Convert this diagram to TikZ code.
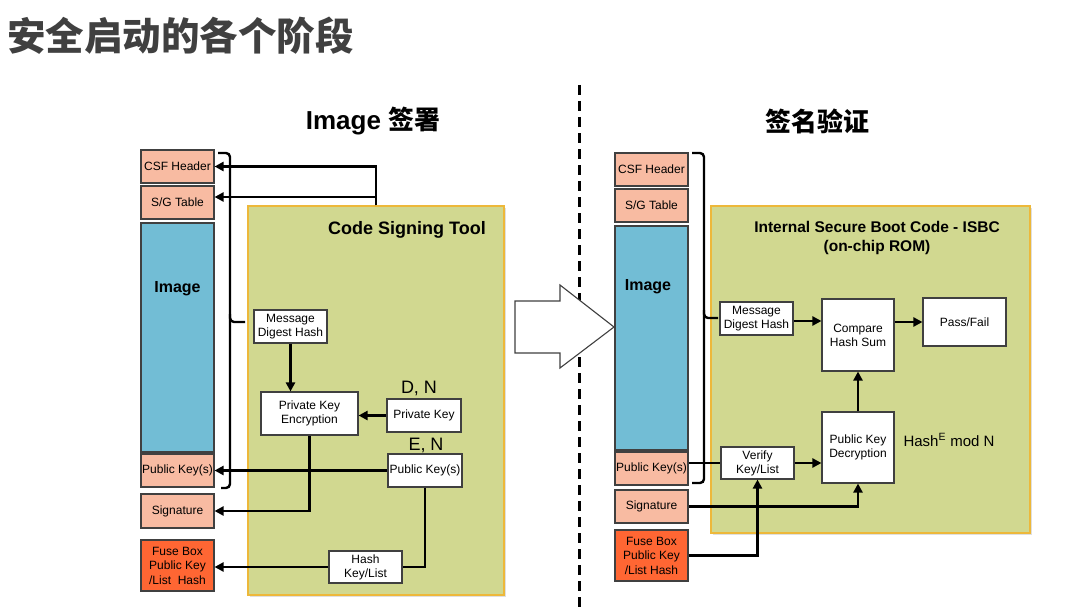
\documentclass[tikz,border=0pt]{standalone}
\usepackage{fontspec}
\setmainfont{Liberation Sans}
\newfontfamily\cjk{Noto Sans CJK SC}
\usetikzlibrary{arrows.meta,shadows}
\definecolor{salmon}{HTML}{F8BBA2}
\definecolor{fuse}{HTML}{FF6633}
\definecolor{imgblue}{HTML}{72BDD5}
\definecolor{toolgreen}{HTML}{D1D890}
\definecolor{toolborder}{HTML}{EDB83A}
\definecolor{edge}{HTML}{404040}
\definecolor{titlegray}{HTML}{404040}
\tikzset{
  every node/.style={inner sep=0pt, align=center},
  fld/.style={draw=edge, line width=1.1pt, fill=salmon, font=\fontsize{12}{14}\selectfont},
  fusebox/.style={fld, fill=fuse, font=\fontsize{12}{14.5}\selectfont},
  imgbox/.style={draw=edge, line width=1.1pt, fill=imgblue},
  wbox/.style={draw=edge, line width=1.1pt, fill=white, font=\fontsize{12}{14}\selectfont},
  panel/.style={draw=toolborder, line width=1.2pt, fill=toolgreen,
     drop shadow={shadow xshift=2pt, shadow yshift=-2pt, opacity=0.25}},
  conn/.style={line width=2.3pt, black},
  arr/.style={conn, -{Triangle[length=9pt,width=9pt]}},
  brace/.style={line width=2.4pt, black, rounded corners=4pt},
  lbl/.style={font=\fontsize{18}{20}\selectfont},
}
\begin{document}
\begin{tikzpicture}[x=1pt,y=-1pt]
\useasboundingbox (0,0) rectangle (1080,610);
\fill[white] (0,0) rectangle (1080,610);

% title
\node[anchor=west, text=titlegray, font=\cjk\bfseries\fontsize{38.5}{40}\selectfont] (title) at (7,36) {安全启动的各个阶段};
\node[font=\bfseries\fontsize{26}{28}\selectfont] (hl) at (373,121) {Image {\cjk 签署}};
\node[font=\cjk\bfseries\fontsize{26}{28}\selectfont] (hr) at (817,121) {签名验证};

% divider
\coordinate (dtop) at (579,85);
\coordinate (dbot) at (579,610);
\draw[line width=3pt, dash pattern=on 10pt off 6pt] (dtop) -- (dbot);

% big arrow
\draw[line width=1.1pt, fill=white, draw=edge] (515,301) -- (560,301) -- (560,285) -- (614,327) -- (560,368) -- (560,353) -- (515,353) -- cycle;

%%%%%%%% LEFT %%%%%%%%
\node[panel, minimum width=256, minimum height=389] (tool) at (376,400.5) {};
\node[font=\bfseries\fontsize{18}{20}\selectfont] (tooltitle) at (407,230) {Code Signing Tool};

\node[fld, minimum width=73, minimum height=33] (csfL) at (177.5,166.5) {CSF Header};
\node[fld, minimum width=73, minimum height=33] (sgL) at (177.5,202.5) {S/G Table};
\node[imgbox, minimum width=73, minimum height=229] (imgL) at (177.5,337.5) {};
\node[font=\bfseries\fontsize{16}{18}\selectfont] (imgLt) at (177.5,289) {Image};
\node[fld, minimum width=73, minimum height=33] (pkL) at (177.5,470.5) {Public Key(s)};
\node[fld, minimum width=73, minimum height=34] (sigL) at (177.5,511) {Signature};
\node[fusebox, minimum width=73, minimum height=51] (fuseL) at (177.5,565.5) {Fuse Box\\Public Key\\/List\ \ Hash};

\node[wbox, minimum width=73, minimum height=33] (mdhL) at (290.5,326.5) {Message\\Digest Hash};
\node[wbox, minimum width=97, minimum height=43] (pkeL) at (309.5,413.5) {Private Key\\Encryption};
\node[wbox, minimum width=74, minimum height=33] (privL) at (424,415.5) {Private Key};
\node[wbox, minimum width=74, minimum height=33] (pubT) at (425,470.5) {Public Key(s)};
\node[wbox, minimum width=73, minimum height=32] (hashKL) at (365.5,567) {Hash\\Key/List};
\node[lbl] (dn) at (419,388) {D, N};
\node[lbl] (en) at (426,445) {E, N};

% left brace
\coordinate (bLt) at (218,153);
\coordinate (bLb) at (221,488);
\coordinate (bLm) at (245,322);
\draw[brace] (bLt) -- (230,153) -- (230,488) -- (bLb);
\draw[brace] (230,314) -- (230,322) -- (bLm);

% left connectors
\draw[arr] (tool.north) |- (csfL.east);
\draw[arr] (tool.north) |- ([yshift=5.5pt]sgL.east);
\draw[arr] (mdhL.south) -- (mdhL.south |- pkeL.north);
\draw[arr] (privL.west) -- (privL.west -| pkeL.east);
\draw[arr] (pubT.west) -- (pubT.west -| pkL.east);
\draw[arr] (pkeL.south) |- (sigL.east);
\draw[conn] (pubT.south) |- (hashKL.east);
\draw[arr] (hashKL.west) -- (hashKL.west -| fuseL.east);

%%%%%%%% RIGHT %%%%%%%%
\node[panel, minimum width=319, minimum height=327] (isbc) at (870.5,369.5) {};
\node[font=\bfseries\fontsize{15.5}{19}\selectfont] (isbct) at (877,237.5) {Internal Secure Boot Code - ISBC\\(on-chip ROM)};

\node[fld, minimum width=73, minimum height=33] (csfR) at (651.5,169.5) {CSF Header};
\node[fld, minimum width=73, minimum height=33] (sgR) at (651.5,205.5) {S/G Table};
\node[imgbox, minimum width=73, minimum height=224] (imgR) at (651.5,338) {};
\node[font=\bfseries\fontsize{16}{18}\selectfont] (imgRt) at (648,287) {Image};
\node[fld, minimum width=73, minimum height=33] (pkR) at (651.5,468.5) {Public Key(s)};
\node[fld, minimum width=73, minimum height=33] (sigR) at (651.5,506.5) {Signature};
\node[fusebox, minimum width=73, minimum height=51] (fuseR) at (651.5,555.5) {Fuse Box\\Public Key\\/List Hash};

\node[wbox, minimum width=73, minimum height=33] (mdhR) at (756.5,318.5) {Message\\Digest Hash};
\node[wbox, minimum width=72, minimum height=72] (cmp) at (858,335) {Compare\\Hash Sum};
\node[wbox, minimum width=83, minimum height=48] (pass) at (964.5,322) {Pass/Fail};
\node[wbox, minimum width=72, minimum height=71] (pkd) at (858,447.5) {Public Key\\Decryption};
\node[wbox, minimum width=73, minimum height=32] (ver) at (757.5,463) {Verify\\Key/List};
\node[font=\fontsize{15}{17}\selectfont] (hashe) at (949,440) {Hash\textsuperscript{E} mod N};

% right brace
\coordinate (bRt) at (692,153);
\coordinate (bRb) at (692,483);
\coordinate (bRm) at (718,318);
\draw[brace] (bRt) -- (704,153) -- (704,483) -- (bRb);
\draw[brace] (704,310) -- (704,318) -- (bRm);

% right connectors
\draw[arr] ([yshift=-2.5pt]mdhR.east) -- ([yshift=-2.5pt]mdhR.east -| cmp.west);
\draw[arr] (pass.west -| cmp.east) -- (pass.west);
\draw[arr] (pkd.north) -- (cmp.south);
\draw[conn] (ver.west -| pkR.east) -- (ver.west);
\draw[arr] (ver.east) -- (ver.east -| pkd.west);
\draw[arr] (sigR.east) -| (pkd.south);
\draw[arr] (fuseR.east) -| (ver.south);
\end{tikzpicture}
\end{document}
